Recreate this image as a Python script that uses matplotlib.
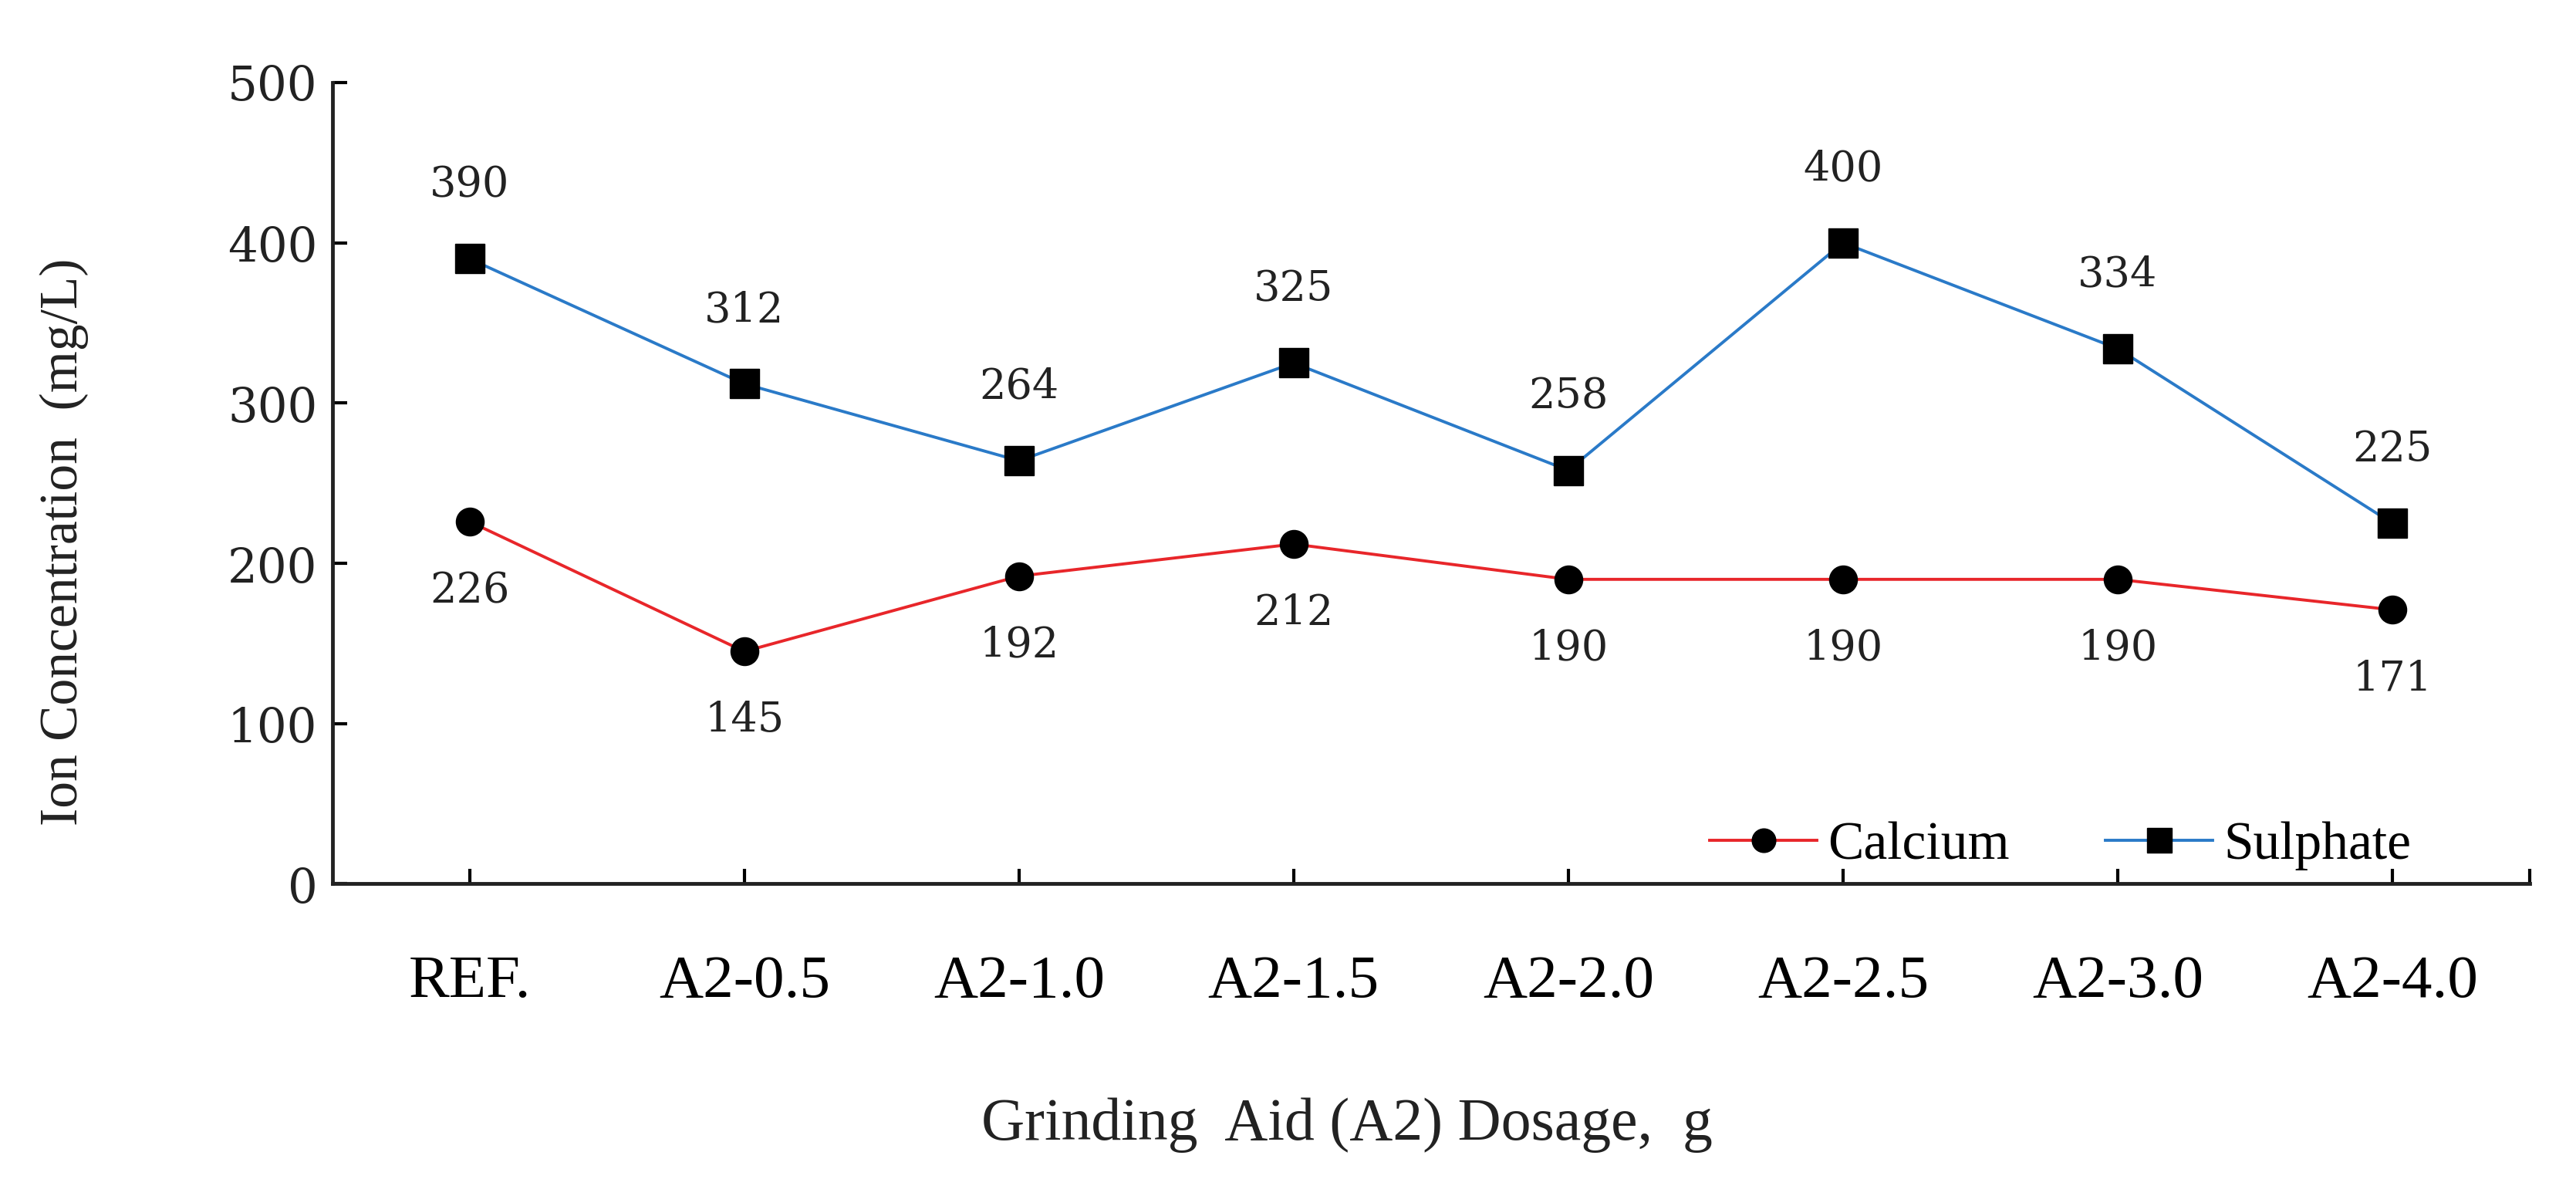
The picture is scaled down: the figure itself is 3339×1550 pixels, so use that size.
import numpy as np
import matplotlib
matplotlib.use('Agg')
import matplotlib.pyplot as plt

categories = ['REF.', 'A2-0.5', 'A2-1.0', 'A2-1.5', 'A2-2.0', 'A2-2.5', 'A2-3.0', 'A2-4.0']
calcium = [226, 145, 192, 212, 190, 190, 190, 171]
sulphate = [390, 312, 264, 325, 258, 400, 334, 225]
y_ticks = [0, 100, 200, 300, 400, 500]

serif = 'Liberation Serif'
num_font = 'DejaVu Serif'

fig = plt.figure(figsize=(33.39, 15.5), dpi=100)
ax = fig.add_axes([0.129, 0.261, 0.853, 0.670])

x = np.arange(len(categories))
ax.plot(x, calcium, color='#e8262a', lw=2.8, marker='o', ms=26,
        mfc='black', mec='black', label='Calcium')
ax.plot(x, sulphate, color='#2a7ac8', lw=2.8, marker='s', ms=27,
        mfc='black', mec='black', label='Sulphate')

for xi, v in zip(x, sulphate):
    ax.annotate(str(v), (xi, v), xytext=(0, 50), textcoords='offset points',
                ha='center', va='bottom', fontsize=39, family=num_font, color='#222222')
for xi, v in zip(x, calcium):
    ax.annotate(str(v), (xi, v), xytext=(0, -46), textcoords='offset points',
                ha='center', va='top', fontsize=39, family=num_font, color='#222222')

ax.set_xlim(-0.5, 7.5)
ax.set_ylim(0, 500)
ax.set_yticks(y_ticks)
ax.set_xticks(x)
ax.set_xticklabels(categories, family=serif, fontsize=57)
ax.set_yticklabels([str(t) for t in y_ticks], family=num_font, fontsize=44, color='#222222')
ax.set_xticks([7.5], minor=True)

ax.tick_params(axis='y', direction='in', length=14, width=3, pad=14)
ax.tick_params(axis='x', which='both', direction='in', length=14, width=3, pad=66)

for s in ['top', 'right']:
    ax.spines[s].set_visible(False)
for s in ['left', 'bottom']:
    ax.spines[s].set_linewidth(3.5)
    ax.spines[s].set_color('#222222')

fig.text(0.025, 0.547, 'Ion Concentration  (mg/L)', rotation=90, ha='center', va='center',
         family=serif, fontsize=50, color='#222222')
fig.text(0.523, 0.059, 'Grinding  Aid (A2) Dosage,  g', ha='center', va='center',
         family=serif, fontsize=56, color='#222222')

leg = ax.legend(loc='center right', bbox_to_anchor=(0.968, 0.047), ncol=2, frameon=False,
                prop={'family': serif, 'size': 50}, handlelength=2.0, handletextpad=0.2,
                columnspacing=1.8, markerscale=0.85)

fig.savefig('out.png', dpi=100, facecolor='white')
